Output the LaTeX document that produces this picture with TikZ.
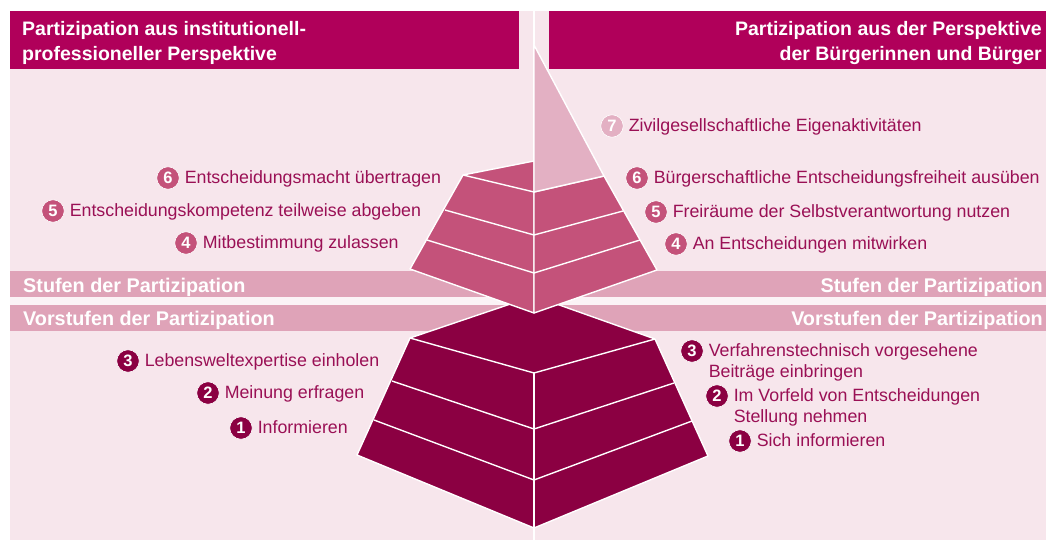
\documentclass[tikz,border=0pt]{standalone}
\usepackage{fontspec}
\setmainfont{Liberation Sans}
\usetikzlibrary{positioning}
\definecolor{hdr}{HTML}{B0005A}
\definecolor{bg}{HTML}{F7E6EC}
\definecolor{band}{HTML}{DFA3B8}
\definecolor{gap}{HTML}{FBF3F6}
\definecolor{upper}{HTML}{C4527A}
\definecolor{apex}{HTML}{E3B0C3}
\definecolor{lower}{HTML}{8B0042}
\definecolor{txt}{HTML}{9A1055}
\begin{document}
\begin{tikzpicture}[x=1pt,y=-1pt,
  num/.style={circle,draw=white,line width=.6pt,fill=#1,minimum size=22.5pt,inner sep=0pt,
    text=white,font=\fontsize{16.5}{16.5}\selectfont\bfseries},
  lbl/.style={inner sep=0pt,text=txt,font=\fontsize{17.8}{20.5}\selectfont},
  hd/.style={inner sep=0pt,text=white,font=\fontsize{19.5}{25}\selectfont\bfseries},
  bd/.style={inner sep=0pt,text=white,font=\fontsize{19.8}{19.8}\selectfont\bfseries},
  seam/.style={white,line width=1.4pt,line join=round}]
\useasboundingbox (0,0) rectangle (1046,540);
% ground, headers and bands
\fill[bg] (10,11) rectangle (1046,540);
\draw[white,line width=2.6pt] (534,0) -- (534,540);
\fill[hdr] (10,11) rectangle (519,69);
\fill[hdr] (549,11) rectangle (1046,69);
\fill[band] (10,271) rectangle (1046,297);
\fill[gap] (10,297) rectangle (1046,305);
\fill[band] (10,305) rectangle (1046,331);
\node[hd,anchor=north west,align=left] (hl) at (22,21) {Partizipation aus institutionell-\\professioneller Perspektive};
\node[hd,anchor=north east,align=right] (hr) at (1042,21) {Partizipation aus der Perspektive\\der Bürgerinnen und Bürger};
\node[bd,anchor=base west] (sl) at (23,292) {Stufen der Partizipation};
\node[bd,anchor=base east] (sr) at (1043,292) {Stufen der Partizipation};
\node[bd,anchor=base west] (vl) at (23,325) {Vorstufen der Partizipation};
\node[bd,anchor=base east] (vr) at (1043,325) {Vorstufen der Partizipation};

% lower pyramid
\filldraw[lower,seam,fill=lower] (534,296) -- (655,339) -- (708,456) -- (534,528) -- (357,455) -- (410,338) -- cycle;
\draw[seam] (410,338) -- (534,373) -- (655,339);
\draw[seam] (392,381) -- (534,429) -- (674,383);
\draw[seam] (374,420) -- (534,480) -- (692,421);
\draw[seam] (534,373) -- (534,540);

% upper pyramid
\filldraw[seam,fill=upper] (534,161) -- (463,175) -- (410,269) -- (534,313) -- cycle;
\filldraw[seam,fill=upper] (534,192) -- (604,176) -- (657,270) -- (534,313) -- cycle;
\filldraw[seam,fill=apex] (534,45) -- (604,176) -- (534,192) -- cycle;
\draw[seam] (463,175) -- (534,192);
\draw[seam] (445,210) -- (534,235) -- (623,211);
\draw[seam] (427,240) -- (534,273) -- (640,240);

% steps, left
\node[num=upper] (n6l) at (168,178) {6};
\node[lbl,base right=5pt of n6l] (t6l) {Entscheidungsmacht übertragen};
\node[num=upper] (n5l) at (53,211) {5};
\node[lbl,base right=5pt of n5l] (t5l) {Entscheidungskompetenz teilweise abgeben};
\node[num=upper] (n4l) at (186,243) {4};
\node[lbl,base right=5pt of n4l] (t4l) {Mitbestimmung zulassen};
\node[num=lower] (n3l) at (128,361) {3};
\node[lbl,base right=5pt of n3l] (t3l) {Lebensweltexpertise einholen};
\node[num=lower] (n2l) at (208,393) {2};
\node[lbl,base right=5pt of n2l] (t2l) {Meinung erfragen};
\node[num=lower] (n1l) at (241,428) {1};
\node[lbl,base right=5pt of n1l] (t1l) {Informieren};

% steps, right
\node[num=apex] (n7r) at (612,126) {7};
\node[lbl,base right=5pt of n7r] (t7r) {Zivilgesellschaftliche Eigenaktivitäten};
\node[num=upper] (n6r) at (637,178) {6};
\node[lbl,base right=5pt of n6r] (t6r) {Bürgerschaftliche Entscheidungsfreiheit ausüben};
\node[num=upper] (n5r) at (656,212) {5};
\node[lbl,base right=5pt of n5r] (t5r) {Freiräume der Selbstverantwortung nutzen};
\node[num=upper] (n4r) at (676,244) {4};
\node[lbl,base right=5pt of n4r] (t4r) {An Entscheidungen mitwirken};
\node[num=lower] (n3r) at (692,351) {3};
\node[lbl,base right=5pt of n3r,align=left,yshift=-20.5pt] (t3r) {Verfahrenstechnisch vorgesehene\\Beiträge einbringen};
\node[num=lower] (n2r) at (717,396) {2};
\node[lbl,base right=5pt of n2r,align=left,yshift=-20.5pt] (t2r) {Im Vorfeld von Entscheidungen\\Stellung nehmen};
\node[num=lower] (n1r) at (740,441) {1};
\node[lbl,base right=5pt of n1r] (t1r) {Sich informieren};
\end{tikzpicture}
\end{document}
